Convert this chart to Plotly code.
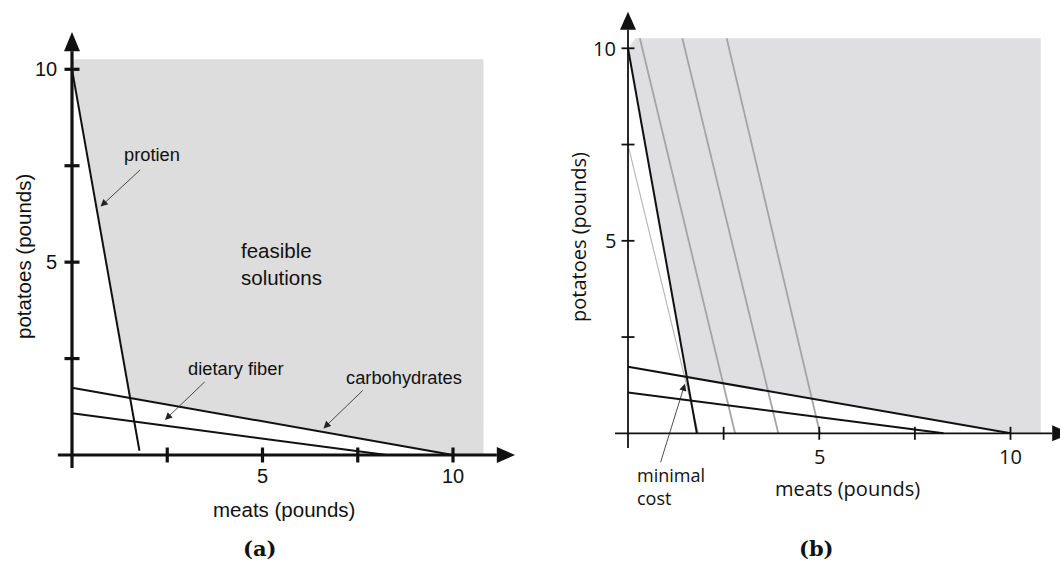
import numpy as np
import plotly.graph_objects as go

# ---------------- data: panel (a) ----------------
protein_a_x = [0, 1.77]
protein_a_y = [10, 0.11]
carb_a_x = [0, 10]
carb_a_y = [1.745, 0]
fiber_a_x = [0, 8.26]
fiber_a_y = [1.08, 0]
feasible_a_top = 10.26
feasible_a_right = 10.8

# ---------------- data: panel (b) ----------------
protein_b_x = [0, 1.80]
protein_b_y = [10, 0]
carb_b_x = [0, 10]
carb_b_y = [1.73, 0]
fiber_b_x = [0, 8.25]
fiber_b_y = [1.06, 0]
feasible_b_top = 10.26
feasible_b_right = 10.79
feasible_b_corner_x = 0.2
cost_top_x = [0.31, 1.42, 2.58]
cost_bottom_x = [2.80, 3.93, 5.02]
mincost_x = [0, 1.84]
mincost_y = [7.49, 0]

tick_vals = [2.5, 5, 7.5, 10]
tick_labels = ["", "5", "", "10"]

# pixel scale of each panel (px per data unit) used for sizing decorations
SX_A, SY_A = 38.1, 38.57
SX_B, SY_B = 38.25, 38.5

BLACK = "#111111"
FILL_A = "#dddddd"
FILL_B = "#dfdfe2"
SANS_A = "Liberation Sans, Arial, sans-serif"
SANS_B = "Open Sans, Noto Sans, sans-serif"
SERIF = "DejaVu Serif, serif"


def intersect(x1, y1, x2, y2):
    m1 = (y1[1] - y1[0]) / (x1[1] - x1[0])
    m2 = (y2[1] - y2[0]) / (x2[1] - x2[0])
    b1 = y1[0] - m1 * x1[0]
    b2 = y2[0] - m2 * x2[0]
    xi = (b2 - b1) / (m1 - m2)
    return xi, m1 * xi + b1


fig = go.Figure()

# ---------- panel (a) ----------
ix, iy = intersect(protein_a_x, protein_a_y, carb_a_x, carb_a_y)
fig.add_trace(go.Scatter(
    x=[0, 0, ix, carb_a_x[1], feasible_a_right, feasible_a_right, 0],
    y=[feasible_a_top, protein_a_y[0], iy, carb_a_y[1], 0, feasible_a_top, feasible_a_top],
    fill="toself", fillcolor=FILL_A, line=dict(width=0), mode="lines",
    hoverinfo="skip", xaxis="x", yaxis="y"))
for xs, ys in [(protein_a_x, protein_a_y), (carb_a_x, carb_a_y), (fiber_a_x, fiber_a_y)]:
    fig.add_trace(go.Scatter(x=xs, y=ys, mode="lines", line=dict(color=BLACK, width=2),
                             hoverinfo="skip", xaxis="x", yaxis="y"))

# ---------- panel (b) ----------
ix, iy = intersect(protein_b_x, protein_b_y, carb_b_x, carb_b_y)
fig.add_trace(go.Scatter(
    x=[feasible_b_corner_x, 0, ix, carb_b_x[1], feasible_b_right, feasible_b_right, feasible_b_corner_x],
    y=[feasible_b_top, protein_b_y[0], iy, carb_b_y[1], 0, feasible_b_top, feasible_b_top],
    fill="toself", fillcolor=FILL_B, line=dict(width=0), mode="lines",
    hoverinfo="skip", xaxis="x2", yaxis="y2"))
for xt, xb in zip(cost_top_x, cost_bottom_x):
    fig.add_trace(go.Scatter(x=[xt, xb], y=[feasible_b_top, 0], mode="lines",
                             line=dict(color="#a4a4a4", width=1.8),
                             hoverinfo="skip", xaxis="x2", yaxis="y2"))
fig.add_trace(go.Scatter(x=mincost_x, y=mincost_y, mode="lines",
                         line=dict(color="#b4b4b4", width=1.1),
                         hoverinfo="skip", xaxis="x2", yaxis="y2"))
for xs, ys in [(protein_b_x, protein_b_y), (carb_b_x, carb_b_y), (fiber_b_x, fiber_b_y)]:
    fig.add_trace(go.Scatter(x=xs, y=ys, mode="lines", line=dict(color=BLACK, width=2),
                             hoverinfo="skip", xaxis="x2", yaxis="y2"))

shapes = []
annotations = []


def draw_axes(xr, yr, sx, sy, lw, tick_half_px, x_lo, x_hi, y_lo, y_hi, tip_x, tip_y):
    # axis lines
    shapes.append(dict(type="line", xref=xr, yref=yr, x0=x_lo, x1=x_hi, y0=0, y1=0,
                       line=dict(color=BLACK, width=lw)))
    shapes.append(dict(type="line", xref=xr, yref=yr, x0=0, x1=0, y0=y_lo, y1=y_hi,
                       line=dict(color=BLACK, width=lw)))
    # arrowheads
    hw_x = 8 / sx
    hw_y = 8 / sy
    shapes.append(dict(type="path", xref=xr, yref=yr,
                       path=f"M {-hw_x} {y_hi} L {hw_x} {y_hi} L 0 {tip_y} Z",
                       fillcolor=BLACK, line=dict(width=0)))
    shapes.append(dict(type="path", xref=xr, yref=yr,
                       path=f"M {x_hi} {-hw_y} L {x_hi} {hw_y} L {tip_x} 0 Z",
                       fillcolor=BLACK, line=dict(width=0)))
    # ticks
    tx = tick_half_px / sx
    ty = tick_half_px / sy
    for v in tick_vals:
        shapes.append(dict(type="line", xref=xr, yref=yr, x0=v, x1=v, y0=-ty, y1=ty,
                           line=dict(color=BLACK, width=lw)))
        shapes.append(dict(type="line", xref=xr, yref=yr, x0=-tx, x1=tx, y0=v, y1=v,
                           line=dict(color=BLACK, width=lw)))


draw_axes("x", "y", SX_A, SY_A, 3.2, 7.5, -0.37, 11.15, -0.34, 10.47, 11.63, 10.97)
draw_axes("x2", "y2", SX_B, SY_B, 1.8, 6.5, -0.34, 11.09, -0.38, 10.48, 11.58, 10.95)


def text(xr, yr, x, y, s, size, family, xanchor="center", yanchor="middle",
         textangle=0, weight="normal", **kw):
    annotations.append(dict(xref=xr, yref=yr, x=x, y=y, text=s, showarrow=False,
                            xanchor=xanchor, yanchor=yanchor, textangle=textangle,
                            font=dict(size=size, family=family, color="#111111",
                                      weight=weight), **kw))


def arrow(xr, yr, tail, tip):
    annotations.append(dict(xref=xr, yref=yr, axref=xr, ayref=yr, x=tip[0], y=tip[1],
                            ax=tail[0], ay=tail[1], text="", showarrow=True,
                            arrowhead=2, arrowsize=1.8, arrowwidth=0.8, arrowcolor="#222222"))


# tick labels (a)
for v, lab in zip(tick_vals, tick_labels):
    if lab:
        text("x", "y", v, -0.55, lab, 20, SANS_A)
        text("x", "y", -0.33, v, lab, 20, SANS_A, xanchor="right")
text("x", "y", 5.56, -1.40, "meats (pounds)", 20.5, SANS_A)
text("x", "y", -1.26, 5.16, "potatoes (pounds)", 20.5, SANS_A, textangle=-90)
text("x", "y", 4.38, 4.94, "feasible<br>solutions", 20.5, SANS_A, xanchor="left", align="left")
text("x", "y", 2.09, 7.78, "protien", 18.3, SANS_A)
text("x", "y", 4.30, 2.23, "dietary fiber", 18.3, SANS_A)
text("x", "y", 8.71, 2.02, "carbohydrates", 18.3, SANS_A)
arrow("x", "y", (1.83, 7.43), (0.75, 6.44))
arrow("x", "y", (3.52, 1.93), (2.44, 0.91))
arrow("x", "y", (7.67, 1.71), (6.60, 0.69))
# panel caption, anchored to the bottom of the picture
annotations.append(dict(xref="x", yref="paper", x=4.93, y=0, yanchor="bottom", yshift=1,
                        text="(a)", showarrow=False,
                        font=dict(size=21, family=SERIF, color="#111111", weight="bold")))

# tick labels (b)
for v, lab in zip(tick_vals, tick_labels):
    if lab:
        text("x2", "y2", v, -0.59, lab, 20, SANS_B)
        text("x2", "y2", -0.26, v, lab, 20, SANS_B, xanchor="right")
text("x2", "y2", 5.74, -1.43, "meats (pounds)", 20, SANS_B)
text("x2", "y2", -1.28, 5.1, "potatoes (pounds)", 20, SANS_B, textangle=-90)
text("x2", "y2", 0.18, -1.39, "minimal<br>cost", 18, SANS_B, xanchor="left", align="left")
arrow("x2", "y2", (0.84, -0.79), (1.49, 1.29))
annotations.append(dict(xref="x2", yref="paper", x=4.93, y=0, yanchor="bottom", yshift=1,
                        text="(b)", showarrow=False,
                        font=dict(size=21, family=SERIF, color="#111111", weight="bold")))

fig.update_layout(
    width=1060, height=564,
    margin=dict(l=0, r=0, t=0, b=0),
    paper_bgcolor="white", plot_bgcolor="white",
    showlegend=False,
    xaxis=dict(domain=[0, 0.5], range=[(0 - 72) / SX_A, (530 - 72) / SX_A], visible=False),
    yaxis=dict(domain=[0, 1], range=[(455 - 564) / SY_A, 455 / SY_A], visible=False),
    xaxis2=dict(domain=[0.5, 1], range=[(530 - 628) / SX_B, (1060 - 628) / SX_B], visible=False),
    yaxis2=dict(domain=[0, 1], range=[(433.3 - 564) / SY_B, 433.3 / SY_B], visible=False),
    shapes=shapes,
    annotations=annotations,
)

fig.write_html("out.html")
